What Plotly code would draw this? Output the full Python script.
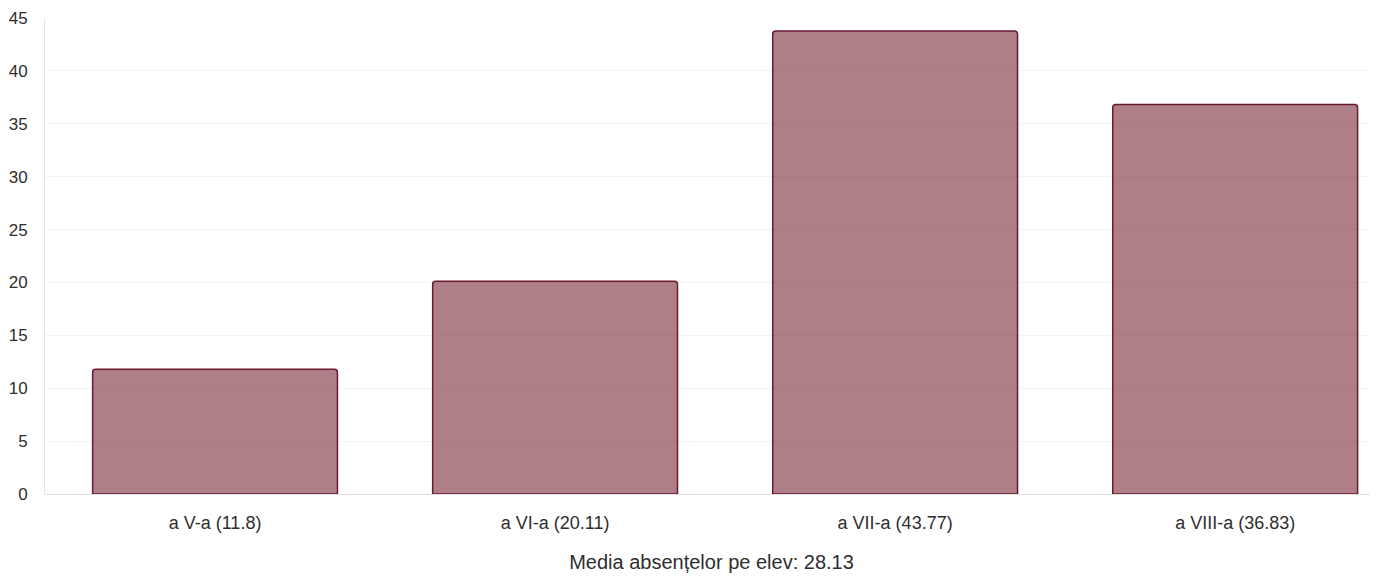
import plotly.graph_objects as go

# Average absences per student, by grade
grades = ["a V-a", "a VI-a", "a VII-a", "a VIII-a"]
absences = [11.8, 20.11, 43.77, 36.83]
overall_mean = 28.13

tick_labels = [f"{g} ({v})" for g, v in zip(grades, absences)]

BAR_FILL = "rgba(108, 22, 37, 0.55)"
BAR_EDGE = "#6a1a30"
TEXT = "#2e2e2e"

fig = go.Figure(
    go.Bar(
        x=tick_labels,
        y=absences,
        width=0.72,
        marker=dict(color=BAR_FILL, line=dict(color=BAR_EDGE, width=1.5), cornerradius=3),
        hoverinfo="y",
    )
)

# the page body has an 8px default margin, so margins are shifted to compensate
fig.update_layout(
    width=1378,
    height=576,
    plot_bgcolor="white",
    paper_bgcolor="white",
    font=dict(family="Liberation Sans, Arial, sans-serif", size=17, color=TEXT),
    margin=dict(l=37, r=8, t=10, b=90, autoexpand=False),
    showlegend=False,
    xaxis=dict(
        range=[-0.5, 3.42],
        showgrid=False,
        ticks="",
        ticklabelstandoff=16,
        tickfont=dict(size=18, color=TEXT),
        title=dict(text=f"Media absențelor pe elev: {overall_mean}", font=dict(size=20, color=TEXT), standoff=22),
    ),
    yaxis=dict(
        range=[0, 45],
        dtick=5,
        gridcolor="#f3f3f3",
        gridwidth=1,
        showline=True,
        linecolor="#e6e6e6",
        zeroline=True,
        zerolinecolor="#e0e0e0",
        zerolinewidth=1,
        ticks="",
        ticklabelstandoff=13,
        tickfont=dict(size=17, color=TEXT),
    ),
)

fig.write_html("out.html")
